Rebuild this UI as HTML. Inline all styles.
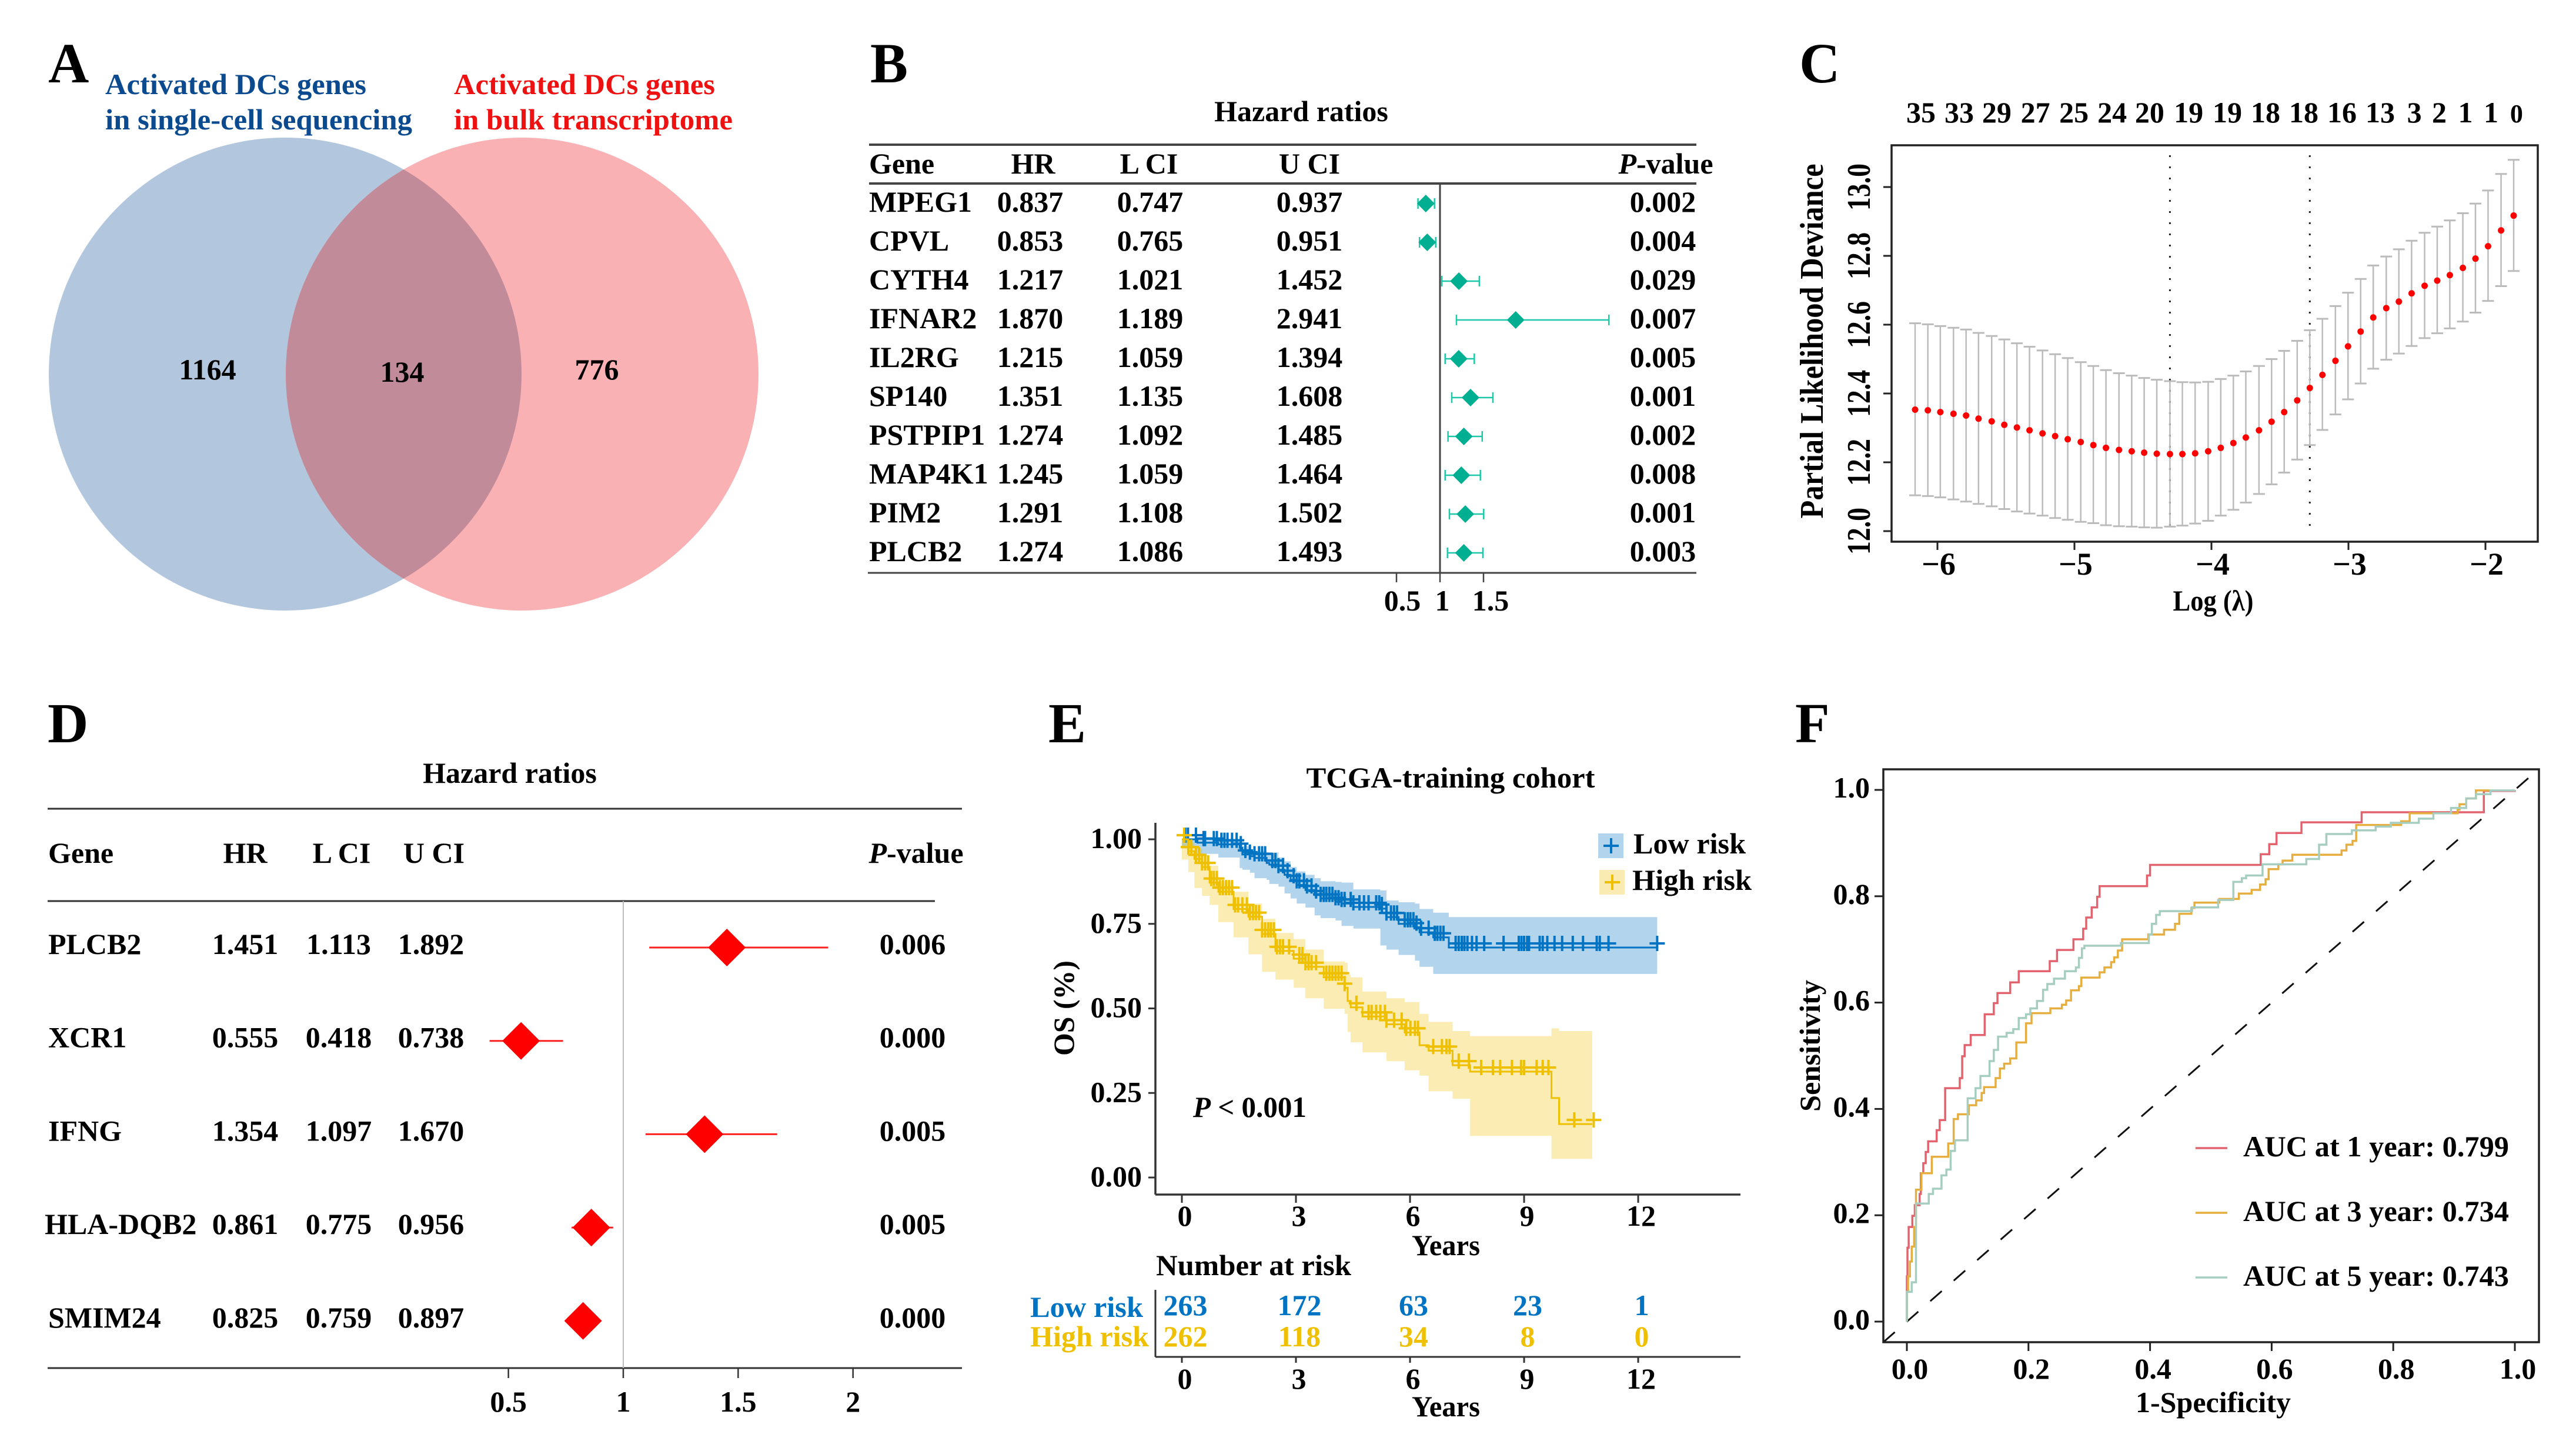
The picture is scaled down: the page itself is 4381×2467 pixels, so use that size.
<!DOCTYPE html>
<html lang="en">
<head>
<meta charset="utf-8">
<title>Activated DC gene signature figure</title>
<style>
html,body{margin:0;padding:0;background:#fff}
svg{display:block;font-family:"Liberation Serif",serif;font-weight:bold;font-size:50px;fill:#000}
.letter{font-size:96px}
</style>
</head>
<body>
<svg id="fig" xmlns="http://www.w3.org/2000/svg" width="4381" height="2467" viewBox="0 0 4381 2467">
<rect x="0" y="0" width="4381" height="2467" fill="#fff"/>
<defs><clipPath id="venn-clip"><circle cx="485" cy="636" r="402"/></clipPath></defs>

<g id="panel-a">
<text class="letter" x="82" y="140">A</text>
<circle cx="485" cy="636" r="402" fill="#b2c7dd"/>
<circle cx="888" cy="636" r="402" fill="#f9b1b3"/>
<circle cx="888" cy="636" r="402" fill="#c28b99" clip-path="url(#venn-clip)"/>
<text x="179" y="160" fill="#0b4a8f" textLength="444" lengthAdjust="spacingAndGlyphs">Activated DCs genes</text>
<text x="179" y="220" fill="#0b4a8f" textLength="522" lengthAdjust="spacingAndGlyphs">in single-cell sequencing</text>
<text x="772" y="160" fill="#ee1111" textLength="444" lengthAdjust="spacingAndGlyphs">Activated DCs genes</text>
<text x="772" y="220" fill="#ee1111" textLength="474" lengthAdjust="spacingAndGlyphs">in bulk transcriptome</text>
<text x="353" y="645" text-anchor="middle">1164</text>
<text x="684" y="649" text-anchor="middle">134</text>
<text x="1015" y="645" text-anchor="middle">776</text>
</g>

<g id="panel-b">
<text class="letter" x="1480" y="140">B</text>
<text x="2213" y="206" text-anchor="middle">Hazard ratios</text>
<text x="1478" y="295">Gene</text>
<text x="1757" y="295" text-anchor="middle">HR</text>
<text x="1954" y="295" text-anchor="middle">L CI</text>
<text x="2227" y="295" text-anchor="middle">U CI</text>
<text x="2833" y="295" text-anchor="middle"><tspan font-style="italic">P</tspan>-value</text>
</g>

<g id="panel-c">
<text class="letter" x="3060" y="140">C</text>
<text x="3100" y="580" font-size="56" text-anchor="middle" transform="rotate(-90 3100 580)" textLength="603" lengthAdjust="spacingAndGlyphs">Partial Likelihood Deviance</text>
<text x="3764" y="1038" text-anchor="middle" textLength="137" lengthAdjust="spacingAndGlyphs">Log (λ)</text>
</g>

<g id="panel-d">
<text class="letter" x="81" y="1262">D</text>
<text x="867" y="1331" text-anchor="middle">Hazard ratios</text>
<text x="82" y="1467">Gene</text>
<text x="417" y="1467" text-anchor="middle">HR</text>
<text x="581" y="1467" text-anchor="middle">L CI</text>
<text x="738" y="1467" text-anchor="middle">U CI</text>
<text x="1558" y="1467" text-anchor="middle"><tspan font-style="italic">P</tspan>-value</text>
</g>

<g id="panel-e">
<text class="letter" x="1783" y="1262">E</text>
<text x="2467" y="1339" text-anchor="middle" textLength="491" lengthAdjust="spacingAndGlyphs">TCGA-training cohort</text>
<text x="1826" y="1714" text-anchor="middle" transform="rotate(-90 1826 1714)" textLength="162" lengthAdjust="spacingAndGlyphs">OS (%)</text>
<text x="2459" y="2134" text-anchor="middle" textLength="116" lengthAdjust="spacingAndGlyphs">Years</text>
<text x="2029" y="1899" textLength="193" lengthAdjust="spacingAndGlyphs"><tspan font-style="italic">P</tspan> &lt; 0.001</text>
<text x="1966" y="2168" textLength="332" lengthAdjust="spacingAndGlyphs">Number at risk</text>
<text x="1752" y="2239" fill="#0073c2" textLength="192" lengthAdjust="spacingAndGlyphs">Low risk</text>
<text x="1752" y="2289" fill="#efc000" textLength="202" lengthAdjust="spacingAndGlyphs">High risk</text>
<text x="2459" y="2408" text-anchor="middle" textLength="116" lengthAdjust="spacingAndGlyphs">Years</text>
<text x="2778" y="1451" textLength="191" lengthAdjust="spacingAndGlyphs">Low risk</text>
<text x="2776" y="1513" textLength="203" lengthAdjust="spacingAndGlyphs">High risk</text>
</g>

<g id="panel-f">
<text class="letter" x="3053" y="1262">F</text>
<text x="3095" y="1778" text-anchor="middle" transform="rotate(-90 3095 1778)" textLength="224" lengthAdjust="spacingAndGlyphs">Sensitivity</text>
<text x="3764" y="2401" text-anchor="middle" textLength="264" lengthAdjust="spacingAndGlyphs">1-Specificity</text>
</g>
</svg>

<script>
/* ---------- panel B data ---------- */
const bGenes = ["MPEG1","CPVL","CYTH4","IFNAR2","IL2RG","SP140","PSTPIP1","MAP4K1","PIM2","PLCB2"];
const bHR  = [0.837,0.853,1.217,1.870,1.215,1.351,1.274,1.245,1.291,1.274];
const bLCI = [0.747,0.765,1.021,1.189,1.059,1.135,1.092,1.059,1.108,1.086];
const bUCI = [0.937,0.951,1.452,2.941,1.394,1.608,1.485,1.464,1.502,1.493];
const bP   = [0.002,0.004,0.029,0.007,0.005,0.001,0.002,0.008,0.001,0.003];
const bTicks = [0.5,1,1.5];

/* ---------- panel C data ---------- */
const cLogLambda = [-6.163,-6.070,-5.979,-5.883,-5.791,-5.700,-5.604,-5.512,-5.420,-5.328,-5.233,-5.141,-5.049,-4.954,-4.862,-4.770,-4.675,-4.582,-4.491,-4.399,-4.303,-4.212,-4.119,-4.024,-3.932,-3.840,-3.749,-3.653,-3.561,-3.469,-3.374,-3.282,-3.190,-3.095,-3.003,-2.911,-2.819,-2.724,-2.632,-2.539,-2.444,-2.352,-2.260,-2.165,-2.073,-1.981,-1.886,-1.794];
const cMean = [12.353,12.351,12.346,12.341,12.336,12.327,12.319,12.309,12.301,12.293,12.284,12.276,12.267,12.259,12.250,12.242,12.236,12.232,12.228,12.225,12.224,12.224,12.226,12.232,12.242,12.256,12.272,12.293,12.318,12.346,12.380,12.416,12.454,12.495,12.537,12.580,12.621,12.648,12.667,12.691,12.713,12.728,12.744,12.765,12.792,12.828,12.874,12.917];
const cUpper = [12.604,12.601,12.596,12.591,12.586,12.576,12.567,12.557,12.546,12.536,12.525,12.514,12.503,12.491,12.480,12.468,12.459,12.452,12.445,12.440,12.436,12.433,12.432,12.434,12.442,12.452,12.464,12.480,12.500,12.524,12.553,12.584,12.617,12.654,12.693,12.733,12.772,12.798,12.819,12.844,12.867,12.885,12.903,12.924,12.952,12.990,13.038,13.079];
const cLower = [12.104,12.102,12.098,12.092,12.086,12.079,12.072,12.064,12.057,12.051,12.045,12.038,12.033,12.027,12.023,12.017,12.014,12.013,12.011,12.010,12.013,12.016,12.022,12.030,12.045,12.062,12.083,12.108,12.136,12.170,12.208,12.250,12.294,12.339,12.383,12.429,12.472,12.498,12.516,12.538,12.561,12.575,12.589,12.609,12.635,12.669,12.712,12.756];
const cVLines = [-4.303,-3.282];
const cXTicks = [-6,-5,-4,-3,-2];
const cYTicks = [12.0,12.2,12.4,12.6,12.8,13.0];
const cTopCounts = ["35","33","29","27","25","24","20","19","19","18","18","16","13","3","2","1","1","0"];
const cTopAt = [-6.120,-5.841,-5.567,-5.285,-5.004,-4.725,-4.451,-4.167,-3.884,-3.605,-3.326,-3.047,-2.768,-2.519,-2.337,-2.146,-1.959,-1.773];

/* ---------- panel D data ---------- */
const dGenes = ["PLCB2","XCR1","IFNG","HLA-DQB2","SMIM24"];
const dHR  = [1.451,0.555,1.354,0.861,0.825];
const dLCI = [1.113,0.418,1.097,0.775,0.759];
const dUCI = [1.892,0.738,1.670,0.956,0.897];
const dP   = [0.006,0.000,0.005,0.005,0.000];
const dTicks = [0.5,1,1.5,2];

/* ---------- panel E data ---------- */
const eLowT = [0,0.41,0.96,1.52,1.59,1.79,1.91,2.23,2.30,2.54,2.70,2.86,3.02,3.25,3.49,3.65,4.04,4.20,4.51,5.22,5.38,5.70,6.13,6.25,6.61,7.02,12.5];
const eLowS = [1,0.990,0.985,0.975,0.955,0.950,0.945,0.930,0.925,0.910,0.895,0.880,0.865,0.850,0.835,0.825,0.815,0.810,0.800,0.795,0.770,0.750,0.740,0.725,0.710,0.680,0.680];
const eLowU = [1,0.998,0.995,0.990,0.980,0.965,0.965,0.961,0.961,0.946,0.935,0.918,0.905,0.895,0.885,0.876,0.874,0.872,0.852,0.849,0.819,0.814,0.810,0.794,0.783,0.770,0.770];
const eLowL = [1,0.973,0.957,0.946,0.915,0.910,0.901,0.885,0.880,0.868,0.860,0.840,0.825,0.810,0.798,0.775,0.767,0.760,0.744,0.736,0.686,0.674,0.658,0.641,0.623,0.602,0.602];
const eLowCensor = [0.09,0.16,0.37,0.57,0.61,0.84,0.92,1.04,1.12,1.2,1.32,1.44,1.55,1.67,1.79,1.91,2.03,2.11,2.19,2.38,2.46,2.54,2.66,2.78,2.94,3.02,3.09,3.21,3.29,3.41,3.53,3.65,3.73,3.8,3.88,3.96,4.04,4.12,4.2,4.28,4.44,4.51,4.67,4.79,4.91,5.11,5.19,5.26,5.38,5.5,5.58,5.66,5.86,5.94,6.01,6.09,6.17,6.29,6.49,6.65,6.72,6.8,6.88,7.2,7.28,7.36,7.43,7.51,7.63,7.75,7.95,8.46,8.86,8.93,9.0,9.08,9.13,9.41,9.49,9.61,9.8,10.0,10.28,10.55,10.91,10.99,11.22,12.5];
const eHighT = [0,0.17,0.33,0.53,0.73,0.96,1.36,1.75,2.11,2.46,2.94,3.25,3.73,4.28,4.36,4.44,4.75,5.38,5.86,6.25,6.49,7.12,7.58,9.72,9.92,10.79];
const eHighS = [1,0.965,0.942,0.918,0.872,0.845,0.794,0.771,0.720,0.670,0.647,0.623,0.592,0.561,0.522,0.503,0.476,0.453,0.429,0.391,0.375,0.332,0.313,0.235,0.158,0.158];
const eHighU = [1,0.990,0.973,0.953,0.922,0.876,0.845,0.810,0.765,0.723,0.705,0.674,0.639,0.635,0.600,0.592,0.550,0.530,0.519,0.484,0.460,0.433,0.418,0.441,0.433,0.433];
const eHighL = [1,0.940,0.903,0.856,0.833,0.806,0.755,0.710,0.660,0.608,0.585,0.561,0.530,0.499,0.484,0.430,0.400,0.370,0.344,0.317,0.301,0.255,0.233,0.123,0.055,0.055];
const eHighCensor = [0.06,0.17,0.25,0.37,0.45,0.53,0.61,0.69,0.77,0.84,0.92,1.0,1.08,1.16,1.24,1.32,1.4,1.48,1.59,1.71,1.79,1.87,1.95,2.03,2.11,2.19,2.27,2.34,2.42,2.5,2.58,2.66,2.82,3.09,3.17,3.25,3.33,3.41,3.53,3.8,3.88,3.96,4.04,4.12,4.2,4.28,4.59,4.91,4.99,5.11,5.22,5.34,5.38,5.58,5.78,5.9,6.01,6.13,6.21,6.61,6.84,6.96,7.04,7.28,7.55,7.87,8.18,8.37,8.68,8.92,9.0,9.33,9.49,9.64,10.32,10.83];
const eXTicks = [0,3,6,9,12];
const eYTicks = [0,0.25,0.5,0.75,1];
const eRiskLow = [263,172,63,23,1];
const eRiskHigh = [262,118,34,8,0];

/* ---------- panel F data ---------- */
const fFpr1 = [0,0.001,0.003,0.009,0.013,0.021,0.023,0.027,0.031,0.035,0.049,0.054,0.063,0.087,0.091,0.095,0.105,0.128,0.143,0.149,0.170,0.184,0.235,0.247,0.274,0.290,0.295,0.304,0.313,0.317,0.395,0.400,0.582,0.596,0.608,0.649,0.748,0.949,1.0];
const fTpr1 = [0.085,0.139,0.178,0.199,0.219,0.240,0.279,0.298,0.319,0.339,0.360,0.379,0.439,0.458,0.499,0.520,0.539,0.578,0.599,0.618,0.638,0.659,0.678,0.699,0.719,0.739,0.760,0.779,0.799,0.819,0.839,0.859,0.879,0.898,0.919,0.939,0.958,0.998,1.0];
const fFpr3 = [0,0.002,0.005,0.008,0.012,0.015,0.024,0.041,0.068,0.077,0.084,0.102,0.114,0.123,0.127,0.146,0.153,0.160,0.170,0.180,0.196,0.205,0.236,0.255,0.262,0.270,0.283,0.287,0.317,0.325,0.336,0.341,0.347,0.354,0.397,0.423,0.441,0.448,0.468,0.473,0.514,0.546,0.567,0.581,0.590,0.595,0.611,0.618,0.634,0.715,0.723,0.733,0.739,0.813,0.827,0.906,0.909,0.920,0.936,0.959];
const fTpr3 = [0.056,0.085,0.113,0.141,0.178,0.248,0.279,0.310,0.335,0.381,0.390,0.407,0.416,0.430,0.441,0.458,0.476,0.485,0.495,0.525,0.561,0.580,0.589,0.596,0.604,0.623,0.631,0.647,0.657,0.666,0.676,0.685,0.698,0.719,0.728,0.737,0.748,0.767,0.778,0.788,0.795,0.805,0.812,0.822,0.832,0.851,0.860,0.867,0.878,0.886,0.897,0.904,0.934,0.941,0.956,0.963,0.973,0.984,0.999,0.999];
const fFpr5 = [0,0.008,0.015,0.036,0.043,0.057,0.065,0.072,0.079,0.100,0.113,0.121,0.136,0.143,0.150,0.164,0.175,0.184,0.196,0.203,0.214,0.224,0.231,0.242,0.260,0.278,0.283,0.288,0.292,0.352,0.398,0.403,0.410,0.416,0.469,0.512,0.537,0.551,0.558,0.585,0.657,0.678,0.690,0.732,0.771,0.796,0.842,0.866,0.895,0.920,0.936,0.960,1.0];
const fTpr5 = [0.056,0.074,0.222,0.240,0.250,0.275,0.286,0.321,0.341,0.420,0.439,0.462,0.490,0.511,0.536,0.543,0.550,0.571,0.578,0.589,0.603,0.624,0.635,0.645,0.659,0.666,0.684,0.702,0.707,0.712,0.728,0.748,0.765,0.772,0.779,0.793,0.827,0.834,0.839,0.860,0.870,0.897,0.917,0.924,0.931,0.938,0.946,0.956,0.966,0.984,0.992,0.999,1.0];
const fTicks = [0,0.2,0.4,0.6,0.8,1];
const fLegendLabels = ['AUC at 1 year: 0.799','AUC at 3 year: 0.734','AUC at 5 year: 0.743'];

/* ---------- helpers ---------- */
const NS = 'http://www.w3.org/2000/svg';
function mk(parent, tag, name, attrs) {
  const e = document.createElementNS(NS, tag);
  
  
  for (const k in attrs) e.setAttribute(k, attrs[k]);
  parent.appendChild(e);
  return e;
}
function line(parent, name, x1, y1, x2, y2, stroke, w, extra) {
  return mk(parent, 'line', name, Object.assign({x1, y1, x2, y2, stroke, 'stroke-width': w}, extra || {}));
}
function txt(parent, name, str, x, y, attrs) {
  const e = mk(parent, 'text', name, Object.assign({x, y}, attrs || {}));
  e.textContent = str;
  return e;
}
function diamond(parent, name, cx, cy, r, fill) {
  return mk(parent, 'polygon', name, {points: `${cx-r},${cy} ${cx},${cy-r} ${cx+r},${cy} ${cx},${cy+r}`, fill});
}
function stepAt(t, ts, vs) {
  let v = vs[0];
  for (let i = 0; i < ts.length; i++) { if (ts[i] <= t) v = vs[i]; }
  return v;
}
function fmt3(v) { return v.toFixed(3); }

/* ---------- panel B ---------- */
(function () {
  const g = document.getElementById('panel-b');
  const xB = v => 2449 + (v - 1) * 148;
  const rowMark = i => 346 + 66 * i;
  const rowText = i => 360 + 66 * i;
  line(g, 'forest-b-top-rule', 1478, 246, 2885, 246, '#444', 4);
  line(g, 'forest-b-header-rule', 1478, 312, 2885, 312, '#444', 4);
  line(g, 'forest-b-bottom-rule', 1476, 974, 2885, 974, '#444', 3);
  line(g, 'forest-b-reference-line', xB(1), 312, xB(1), 974, '#444', 3);
  bTicks.forEach(v => {
    line(g, 'forest-b-tick', xB(v), 974, xB(v), 990, '#444', 2.5);
    txt(g, 'forest-b-tick-label', String(v), xB(v) + (v === 1 ? 4 : v < 1 ? 10 : 12), 1038, {'text-anchor': 'middle'});
  });
  bGenes.forEach((gene, i) => {
    txt(g, 'forest-b-gene', gene, 1478, rowText(i));
    txt(g, 'forest-b-hr', fmt3(bHR[i]), 1752, rowText(i), {'text-anchor': 'middle'});
    txt(g, 'forest-b-lci', fmt3(bLCI[i]), 1956, rowText(i), {'text-anchor': 'middle'});
    txt(g, 'forest-b-uci', fmt3(bUCI[i]), 2227, rowText(i), {'text-anchor': 'middle'});
    txt(g, 'forest-b-p', fmt3(bP[i]), 2828, rowText(i), {'text-anchor': 'middle'});
    const y = rowMark(i);
    line(g, 'forest-b-ci', xB(bLCI[i]), y, xB(bUCI[i]), y, '#1dc8a8', 2.5);
    line(g, 'forest-b-ci-cap-low', xB(bLCI[i]), y - 9, xB(bLCI[i]), y + 9, '#1dc8a8', 2.5);
    line(g, 'forest-b-ci-cap-high', xB(bUCI[i]), y - 9, xB(bUCI[i]), y + 9, '#1dc8a8', 2.5);
    diamond(g, 'forest-b-hr-marker', xB(bHR[i]), y, 15, '#00af91');
  });
})();

/* ---------- panel C ---------- */
(function () {
  const g = document.getElementById('panel-c');
  const xC = v => 3295 + (v + 6) * 233;
  const yC = v => 903 - (v - 12) * 585;
  cVLines.forEach(v => {
    line(g, 'lasso-lambda-line', xC(v), 264, xC(v), 904, '#222', 3, {'stroke-dasharray': '3 16'});
  });
  cLogLambda.forEach((v, i) => {
    const x = xC(v);
    line(g, 'lasso-error-bar', x, yC(cUpper[i]), x, yC(cLower[i]), '#bbb', 2.5);
    line(g, 'lasso-cap-upper', x - 10, yC(cUpper[i]), x + 10, yC(cUpper[i]), '#bbb', 3);
    line(g, 'lasso-cap-lower', x - 10, yC(cLower[i]), x + 10, yC(cLower[i]), '#bbb', 3);
  });
  cLogLambda.forEach((v, i) => {
    mk(g, 'circle', 'lasso-mean-point', {cx: xC(v), cy: yC(cMean[i]), r: 5.5, fill: '#ff0000'});
  });
  mk(g, 'rect', 'lasso-plot-frame', {x: 3217, y: 247, width: 1099, height: 674, fill: 'none', stroke: '#222', 'stroke-width': 3.5});
  cXTicks.forEach(v => {
    line(g, 'lasso-x-tick', xC(v), 921, xC(v), 935, '#222', 3);
    txt(g, 'lasso-x-tick-label', '\u2212' + Math.abs(v), xC(v) + 2, 977, {'text-anchor': 'middle', 'font-size': 54});
  });
  cYTicks.forEach(v => {
    const y = yC(v);
    line(g, 'lasso-y-tick', 3203, y, 3217, y, '#222', 3);
    txt(g, 'lasso-y-tick-label', v.toFixed(1), 3180, y, {'text-anchor': 'middle', transform: `rotate(-90 3180 ${y})`, 'font-size': 56, textLength: 80, lengthAdjust: 'spacingAndGlyphs'});
  });
  cTopCounts.forEach((c, i) => {
    txt(g, 'lasso-top-count', c, xC(cTopAt[i]), 208, {'text-anchor': 'middle', 'font-size': c === '0' ? 44 : 50});
  });
})();

/* ---------- panel D ---------- */
(function () {
  const g = document.getElementById('panel-d');
  const xD = v => 1060 + (v - 1) * 390.7;
  const rowMark = i => 1611 + 158.7 * i;
  const rowText = i => 1622 + 158.7 * i;
  line(g, 'forest-d-top-rule', 81, 1375, 1636, 1375, '#333', 3);
  line(g, 'forest-d-header-rule', 81, 1532, 1590, 1532, '#333', 3);
  line(g, 'forest-d-bottom-rule', 81, 2326, 1636, 2326, '#333', 3);
  line(g, 'forest-d-reference-line', xD(1), 1532, xD(1), 2326, '#bbb', 2);
  dTicks.forEach(v => {
    line(g, 'forest-d-tick', xD(v), 2326, xD(v), 2343, '#333', 2.5);
    txt(g, 'forest-d-tick-label', String(v), xD(v), 2400, {'text-anchor': 'middle'});
  });
  dGenes.forEach((gene, i) => {
    txt(g, 'forest-d-gene', gene, gene === 'HLA-DQB2' ? 76 : 82, rowText(i));
    txt(g, 'forest-d-hr', fmt3(dHR[i]), 417, rowText(i), {'text-anchor': 'middle'});
    txt(g, 'forest-d-lci', fmt3(dLCI[i]), 576, rowText(i), {'text-anchor': 'middle'});
    txt(g, 'forest-d-uci', fmt3(dUCI[i]), 733, rowText(i), {'text-anchor': 'middle'});
    txt(g, 'forest-d-p', fmt3(dP[i]), 1552, rowText(i), {'text-anchor': 'middle'});
    const y = rowMark(i);
    line(g, 'forest-d-ci', xD(dLCI[i]), y, xD(dUCI[i]), y, '#ff2020', 3);
    diamond(g, 'forest-d-hr-marker', xD(dHR[i]), y, 32, '#ff0000');
  });
})();

/* ---------- panel E ---------- */
(function () {
  const g = document.getElementById('panel-e');
  const xE = t => 2010 + t * 64.67;
  const yE = s => 2002 - s * 575;
  function stepPath(ts, vs) {
    let d = `M${xE(ts[0])} ${yE(vs[0])}`;
    for (let i = 1; i < ts.length; i++) d += `H${xE(ts[i])}V${yE(vs[i])}`;
    return d;
  }
  function band(ts, up, lo) {
    let d = stepPath(ts, up);
    for (let i = ts.length - 1; i > 0; i--) d += `V${yE(lo[i])}H${xE(ts[i-1])}`;
    d += `V${yE(lo[0])}Z`;
    return d;
  }
  function plus(name, x, y, color) {
    mk(g, 'path', name, {d: `M${x-13} ${y}H${x+13}M${x} ${y-13}V${y+13}`, stroke: color, 'stroke-width': 4, fill: 'none'});
  }
  function series(key, ts, s, u, l, cens, color) {
    mk(g, 'path', 'km-' + key + '-ci-band', {d: band(ts, u, l), fill: color, 'fill-opacity': 0.3});
    mk(g, 'path', 'km-' + key + '-curve', {d: stepPath(ts, s), stroke: color, 'stroke-width': 3, fill: 'none'});
    cens.forEach(t => {
      plus('km-' + key + '-censor-mark', xE(t), yE(stepAt(t, ts, s)) - 7, color);
    });
  }
  series('low', eLowT, eLowS, eLowU, eLowL, eLowCensor, '#0073c2');
  series('high', eHighT, eHighS, eHighU, eHighL, eHighCensor, '#efc000');

  line(g, 'km-y-axis', 1965, 1399, 1965, 2031, '#333', 3.5);
  line(g, 'km-x-axis', 1965, 2031, 2960, 2031, '#333', 3.5);
  eYTicks.forEach(v => {
    line(g, 'km-y-tick', 1953, yE(v), 1965, yE(v), '#333', 3);
    txt(g, 'km-y-tick-label', v.toFixed(2), 1942, yE(v) + 15, {'text-anchor': 'end'});
  });
  eXTicks.forEach((v, i) => {
    line(g, 'km-x-tick', xE(v), 2031, xE(v), 2045, '#333', 3);
    txt(g, 'km-x-tick-label', String(v), xE(v) + 5, 2084, {'text-anchor': 'middle'});
    txt(g, 'risk-low-count', String(eRiskLow[i]), xE(v) + 6, 2236, {'text-anchor': 'middle', fill: '#0073c2'});
    txt(g, 'risk-high-count', String(eRiskHigh[i]), xE(v) + 6, 2289, {'text-anchor': 'middle', fill: '#efc000'});
    line(g, 'risk-x-tick', xE(v), 2307, xE(v), 2317, '#333', 3);
    txt(g, 'risk-x-tick-label', String(v), xE(v) + 5, 2361, {'text-anchor': 'middle'});
  });
  line(g, 'risk-y-axis', 1965, 2193, 1965, 2307, '#333', 3);
  line(g, 'risk-x-axis', 1965, 2307, 2960, 2307, '#333', 3);

  const swatchLow = mk(g, 'rect', 'legend-low-swatch', {x: 2718, y: 1417, width: 43, height: 42, fill: '#b2d5ed'});
  plus('legend-low-plus', 2740, 1438, '#0073c2');
  const swatchHigh = mk(g, 'rect', 'legend-high-swatch', {x: 2720, y: 1479, width: 43, height: 42, fill: '#faebb2'});
  plus('legend-high-plus', 2742, 1500, '#efc000');
})();

/* ---------- panel F ---------- */
(function () {
  const g = document.getElementById('panel-f');
  const xF = v => 3243 + v * 1034;
  const yF = v => 2247 - v * 904;
  function rocPath(fpr, tpr) {
    let d = `M${xF(0)} ${yF(0)}`;
    fpr.forEach((f, i) => { d += `H${xF(f)}V${yF(tpr[i])}`; });
    return d;
  }
  line(g, 'roc-diagonal', xF(-0.0387), yF(-0.0387), xF(1.04), yF(1.04), '#111', 3, {'stroke-dasharray': '26 27'});
  mk(g, 'path', 'roc-curve-1-year', {d: rocPath(fFpr1, fTpr1), fill: 'none', stroke: '#e2636e', 'stroke-width': 3.5});
  mk(g, 'path', 'roc-curve-3-year', {d: rocPath(fFpr3, fTpr3), fill: 'none', stroke: '#e6ae3e', 'stroke-width': 3.5});
  mk(g, 'path', 'roc-curve-5-year', {d: rocPath(fFpr5, fTpr5), fill: 'none', stroke: '#a5cdc0', 'stroke-width': 3.5});
  mk(g, 'rect', 'roc-plot-frame', {x: 3203, y: 1308, width: 1115, height: 974, fill: 'none', stroke: '#222', 'stroke-width': 3.5});
  fTicks.forEach(v => {
    line(g, 'roc-x-tick', xF(v), 2282, xF(v), 2297, '#222', 3);
    line(g, 'roc-y-tick', 3188, yF(v), 3203, yF(v), '#222', 3);
    txt(g, 'roc-x-tick-label', v.toFixed(1), xF(v) + 5, 2344, {'text-anchor': 'middle'});
    txt(g, 'roc-y-tick-label', v.toFixed(1), 3180, yF(v) + 13, {'text-anchor': 'end'});
  });
  const legendColors = ['#e2636e', '#e6ae3e', '#a5cdc0'];
  fLegendLabels.forEach((label, i) => {
    line(g, 'roc-legend-line', 3734, 1952 + 110 * i, 3788, 1952 + 110 * i, legendColors[i], 3.5);
    txt(g, 'roc-legend-label', label, 3815, 1966 + 110 * i, {textLength: 452, lengthAdjust: 'spacingAndGlyphs'});
  });
})();
</script>
</body>
</html>
